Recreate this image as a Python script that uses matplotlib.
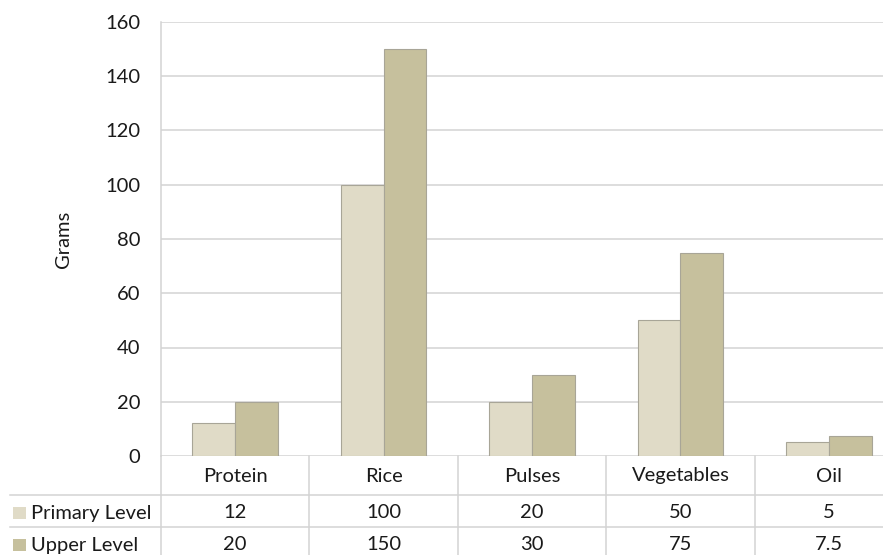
import matplotlib.pyplot as plt
import numpy as np

categories = ['Protein', 'Rice', 'Pulses', 'Vegetables', 'Oil']
primary = [12, 100, 20, 50, 5]
upper = [20, 150, 30, 75, 7.5]
primary_labels = ['12', '100', '20', '50', '5']
upper_labels = ['20', '150', '30', '75', '7.5']
series_names = ['Primary Level', 'Upper Level']

c_light = '#E0DBC7'
c_dark = '#C6C09D'
grid_c = '#D3D3D3'
txt_c = '#1a1a1a'
fs = 14.5

plt.rcParams['font.family'] = ['Lato', 'DejaVu Sans']

fig = plt.figure(figsize=(8.83, 5.55), dpi=100)
# right edge runs past the figure, the original is cropped there
ax = fig.add_axes([161 / 883, 99 / 555, 742 / 883, 434 / 555])

x = np.arange(len(categories))
w = 0.288
ax.bar(x - w / 2, primary, w, color=c_light, edgecolor='#a8a597', linewidth=0.8, zorder=3)
ax.bar(x + w / 2, upper, w, color=c_dark, edgecolor='#a8a597', linewidth=0.8, zorder=3)

ax.set_xlim(-0.5, 4.5)
ax.set_ylim(0, 160)
ax.set_yticks(range(0, 161, 20))
ax.yaxis.grid(True, color=grid_c, linewidth=1.1, zorder=0)
ax.tick_params(axis='y', length=0, pad=15, labelsize=fs, labelcolor=txt_c)
ax.set_xticks([])
for s in ['top', 'right', 'bottom']:
    ax.spines[s].set_visible(False)
ax.spines['left'].set_color(grid_c)
ax.spines['left'].set_linewidth(1.1)
ax.set_ylabel('Grams', fontsize=fs, color=txt_c, labelpad=24)

# data table below the axis
px = 160 / 434.0          # data units per pixel (vertical)
xpx = 1 / 148.4           # data units per pixel (horizontal)
x_left = -0.5 - 161 * xpx
row_lines = [-39 * px, -71 * px]
y_bot = -110 * px
lk = dict(color=grid_c, linewidth=1.1, clip_on=False, zorder=1)
ax.plot([-0.5, -0.5], [0, y_bot], **lk)
for i in range(1, len(categories) + 1):
    ax.plot([i - 0.5, i - 0.5], [0, y_bot], **lk)
for yl in row_lines:
    ax.plot([x_left + 10 * xpx, 4.5], [yl, yl], **lk)

ycat = -20 * px
yrows = [-57 * px, -89 * px]
for i, c in enumerate(categories):
    ax.text(i, ycat, c, ha='center', va='center', fontsize=fs, color=txt_c)
    ax.text(i, yrows[0], primary_labels[i], ha='center', va='center', fontsize=fs, color=txt_c)
    ax.text(i, yrows[1], upper_labels[i], ha='center', va='center', fontsize=fs, color=txt_c)

for yr, name, col in zip(yrows, series_names, [c_light, c_dark]):
    ax.add_patch(plt.Rectangle((x_left + 13 * xpx, yr - 6 * px), 13 * xpx, 12 * px,
                               facecolor=col, edgecolor='none', clip_on=False))
    ax.text(x_left + 31 * xpx, yr, name, ha='left', va='center', fontsize=fs, color=txt_c)

plt.savefig('out.png', dpi=100)
